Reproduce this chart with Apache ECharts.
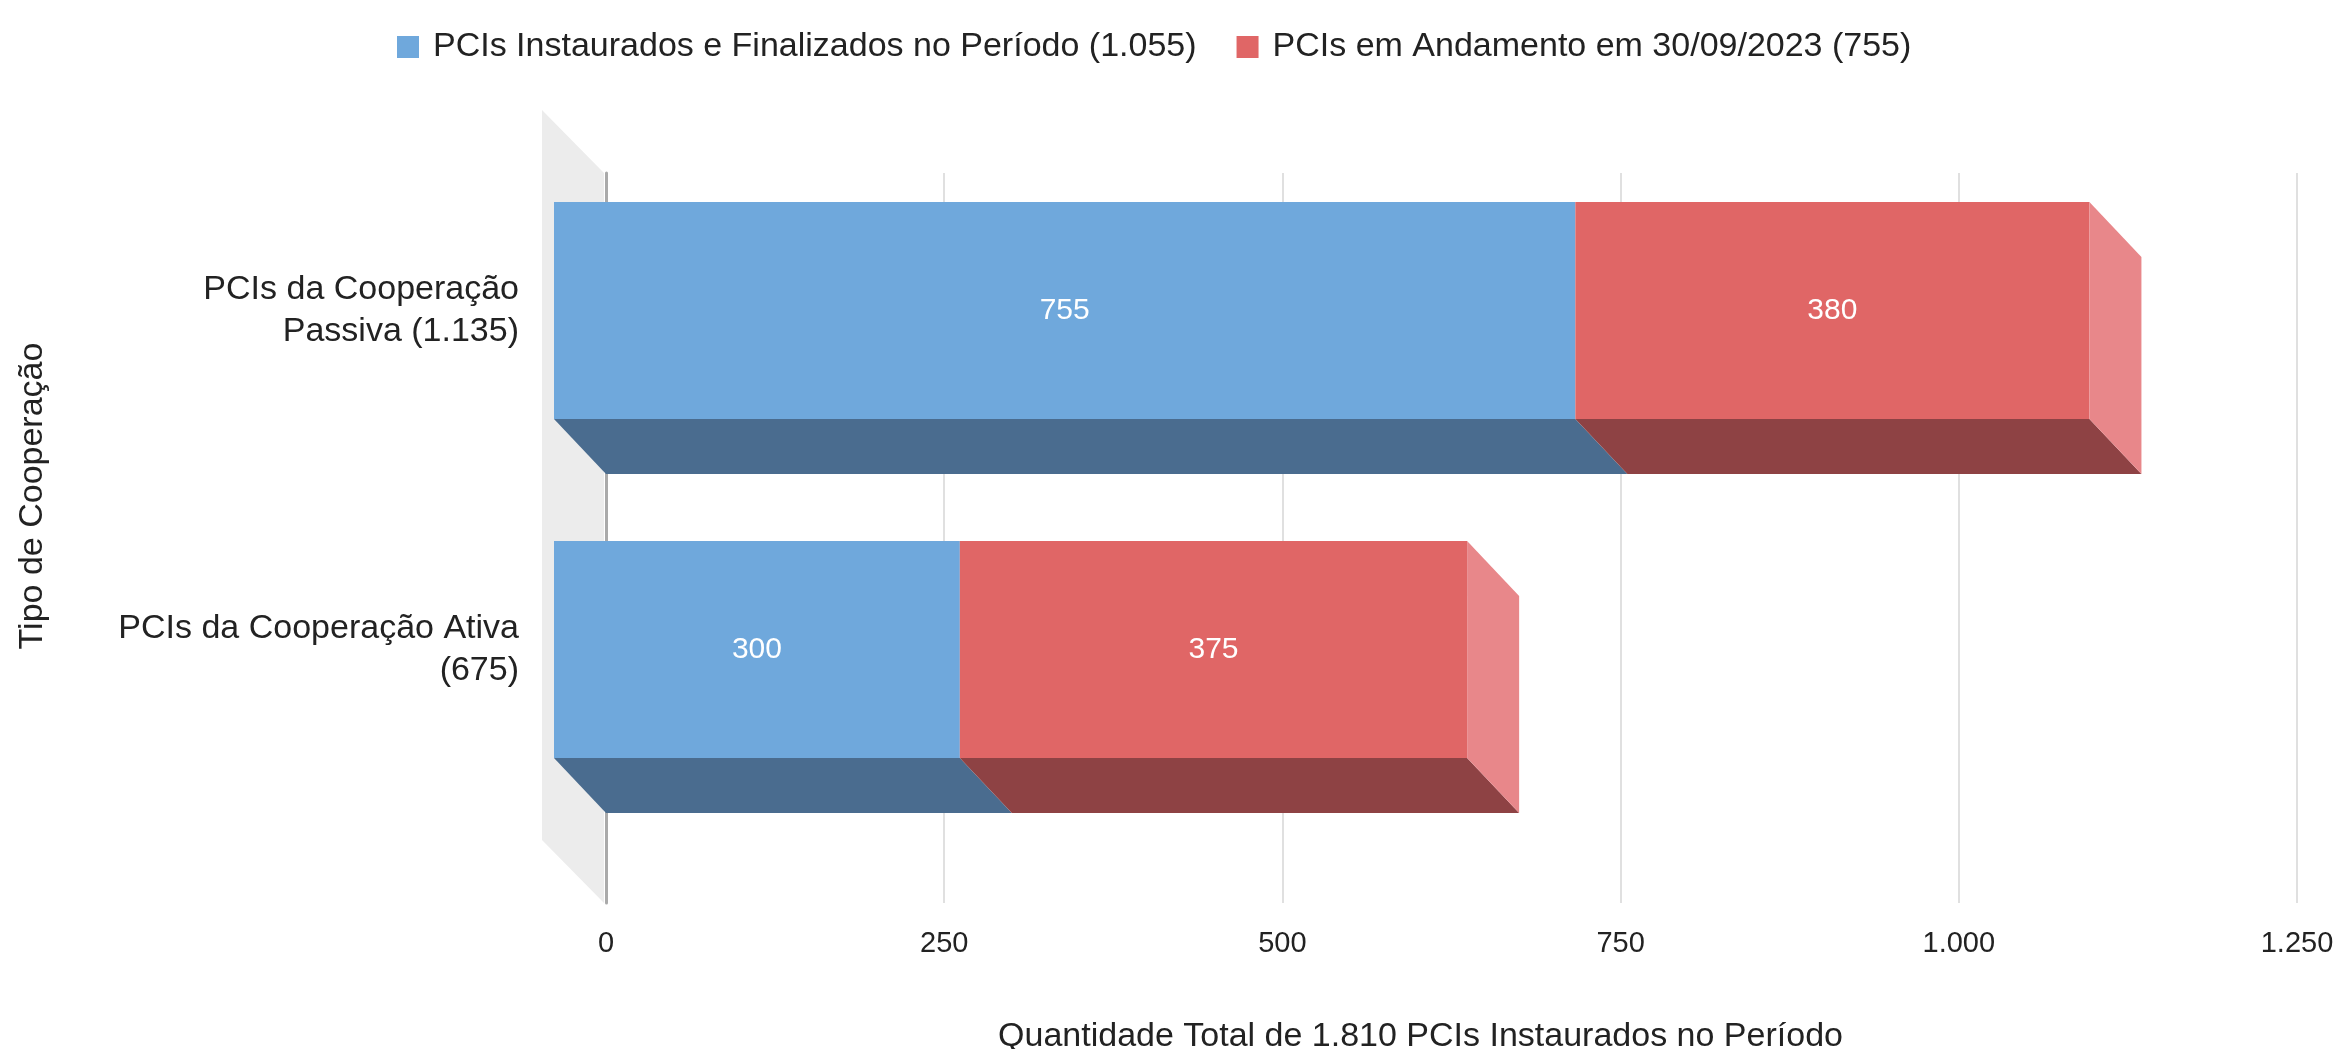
<!DOCTYPE html>
<html>
<head>
<meta http-equiv="content-type" content="text/html; charset=utf-8"/>
<title>PCIs por Tipo de Cooperação</title>
<style type="text/css">
    html, body { margin: 0; padding: 0; background: #fff; }
    #chart { width: 2347px; height: 1049px; }
</style>
<script type="text/javascript" src="https://cdn.jsdelivr.net/npm/echarts/dist/echarts.min.js"></script>
</head>
<body>
<div id="chart"></div>
<script>
    // dados
    var categorias = ['PCIs da Cooperação\nPassiva (1.135)', 'PCIs da Cooperação Ativa\n(675)'];
    var finalizados = [755, 300];
    var andamento = [380, 375];
    var ticksX = [0, 250, 500, 750, 1000, 1250];
    var nomesSeries = ['PCIs Instaurados e Finalizados no Período (1.055)', 'PCIs em Andamento em 30/09/2023 (755)'];

    var fonte = 'Liberation Sans, Arial, sans-serif';
    var profX = 52, profY = 55;   // profundidade do efeito 3D (px)

    // cores: frente, base, lateral
    var coresAzul = ['#6fa8dc', '#4a6c8f', '#8fbde6'];
    var coresVermelho = ['#e06666', '#8e4244', '#e8878a'];

    function milhar(v){
        return String(v).replace(/\B(?=(\d{3})+(?!\d))/g, '.');
    }

    /*
    *  desenha uma barra "3D": face frontal, base e lateral direita
    */
    function barra3d(cores, ultima){
        return function(params, api){
            var cat = api.value(0);
            var ini = api.value(1);
            var fim = api.value(2);
            var p0 = api.coord([ini, cat]);
            var p1 = api.coord([fim, cat]);
            var h = api.size([0, 1])[1] * 0.64;
            var yt = p0[1] - h / 2, yb = p0[1] + h / 2;
            var filhos = [
                {
                    type: 'polygon',
                    shape: { points: [[p0[0], yb], [p1[0], yb], [p1[0] + profX, yb + profY], [p0[0] + profX, yb + profY]] },
                    style: { fill: cores[1] }
                },
                {
                    type: 'rect',
                    shape: { x: p0[0], y: yt, width: p1[0] - p0[0], height: h },
                    style: { fill: cores[0] }
                }
            ];
            if(ultima){
                filhos.push({
                    type: 'polygon',
                    shape: { points: [[p1[0], yt], [p1[0] + profX, yt + profY], [p1[0] + profX, yb + profY], [p1[0], yb]] },
                    style: { fill: cores[2] }
                });
            }
            filhos.push({
                type: 'text',
                style: {
                    text: String(api.value(3)),
                    x: (p0[0] + p1[0]) / 2, y: p0[1],
                    align: 'center', verticalAlign: 'middle',
                    fill: '#ffffff', fontSize: 30, fontFamily: fonte
                }
            });
            return { type: 'group', children: filhos };
        };
    }

    // parede lateral cinza do eixo
    function parede(params, api){
        var topo = api.coord([0, 1]);
        var base = api.coord([0, 0]);
        var x = topo[0] - 2;
        return {
            type: 'polygon',
            shape: { points: [[x - 62, topo[1] - 63], [x, topo[1]], [x, base[1]], [x - 62, base[1] - 63]] },
            style: { fill: '#ececec' }
        };
    }

    var dadosAzul = [], dadosVermelho = [];
    for (var i = 0; i < categorias.length; i++) {
        dadosAzul.push([i, 0, finalizados[i], finalizados[i]]);
        dadosVermelho.push([i, finalizados[i], finalizados[i] + andamento[i], andamento[i]]);
    }

    var chart = echarts.init(document.getElementById('chart'));
    var option = {
        animation: false,
        textStyle: { fontFamily: fonte },
        legend: {
            top: 30, left: 397, padding: 0,
            itemWidth: 22, itemHeight: 22, itemGap: 40,
            icon: 'rect',
            textStyle: { fontSize: 34, color: '#222', fontFamily: fonte, padding: [0, 0, 0, 9] },
            data: [
                { name: nomesSeries[0], itemStyle: { color: coresAzul[0] } },
                { name: nomesSeries[1], itemStyle: { color: coresVermelho[0] } }
            ]
        },
        grid: [
            // plano do fundo (linhas de grade)
            { left: 606, right: 50, top: 173, bottom: 146, outerBoundsMode: 'none' },
            // plano da frente (barras)
            { left: 554, right: 102, top: 141, bottom: 230, outerBoundsMode: 'none' }
        ],
        xAxis: [
            {
                gridIndex: 0, type: 'value', min: 0, max: 1250, interval: 250,
                axisLine: { show: false }, axisTick: { show: false },
                splitLine: { lineStyle: { color: '#e0e0e0', width: 2 } },
                axisLabel: { fontSize: 29, color: '#222', margin: 26, formatter: milhar, fontFamily: fonte },
                name: 'Quantidade Total de 1.810 PCIs Instaurados no Período',
                nameLocation: 'middle', nameGap: 117,
                nameTextStyle: { fontSize: 34, color: '#222', padding: [0, 62, 0, 0], fontFamily: fonte }
            },
            {
                gridIndex: 1, type: 'value', min: 0, max: 1250, interval: 250,
                show: false
            }
        ],
        yAxis: [
            {
                gridIndex: 0, type: 'value', min: 0, max: 1,
                axisLine: { show: true, lineStyle: { color: '#aaaaaa', width: 3 } },
                axisTick: { show: false }, axisLabel: { show: false }, splitLine: { show: false }
            },
            {
                gridIndex: 1, type: 'category', data: categorias, inverse: true,
                axisLine: { show: false }, axisTick: { show: false }, splitLine: { show: false },
                axisLabel: { fontSize: 34, lineHeight: 42, color: '#222', margin: 35, fontFamily: fonte },
                name: 'Tipo de Cooperação', nameLocation: 'middle', nameRotate: 90, nameGap: 504,
                nameTextStyle: { fontSize: 34, color: '#222', padding: [0, 32, 0, 0], fontFamily: fonte }
            }
        ],
        series: [
            {
                type: 'custom', name: 'parede', xAxisIndex: 0, yAxisIndex: 0,
                renderItem: parede, data: [[0, 0]], silent: true, z: 1
            },
            {
                type: 'custom', name: nomesSeries[0], xAxisIndex: 1, yAxisIndex: 1,
                itemStyle: { color: coresAzul[0] },
                encode: { x: [1, 2], y: 0 },
                renderItem: barra3d(coresAzul, false), data: dadosAzul, z: 2
            },
            {
                type: 'custom', name: nomesSeries[1], xAxisIndex: 1, yAxisIndex: 1,
                itemStyle: { color: coresVermelho[0] },
                encode: { x: [1, 2], y: 0 },
                renderItem: barra3d(coresVermelho, true), data: dadosVermelho, z: 3
            }
        ]
    };
    chart.setOption(option);
</script>
</body>
</html>
